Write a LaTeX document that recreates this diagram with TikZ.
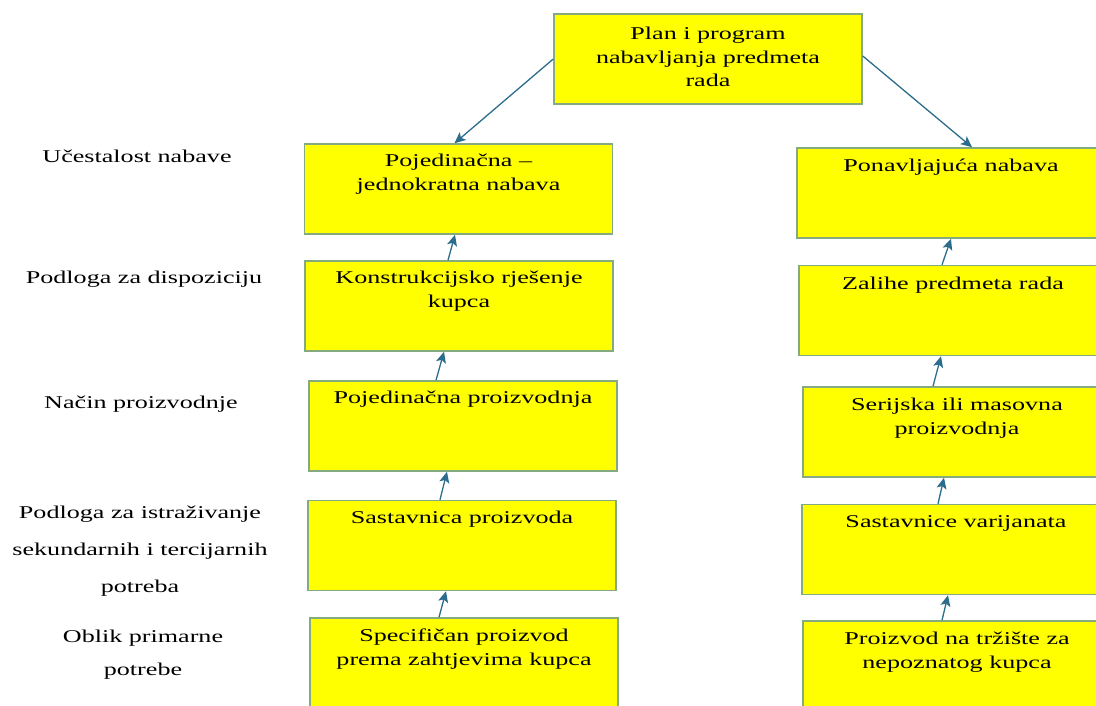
\documentclass[tikz,border=0pt]{standalone}
\usepackage{fontspec}
\setmainfont{Liberation Serif}[FakeStretch=1.45]
\usepackage{tikz}
\usetikzlibrary{arrows.meta,positioning}

\definecolor{boxline}{RGB}{134,170,128}
\definecolor{arrowblue}{RGB}{44,108,140}
\definecolor{boxfill}{RGB}{255,255,0}

\begin{document}
\begin{tikzpicture}[x=1pt,y=-1pt,->,>={Stealth[length=11pt,width=10pt,inset=2.5pt]},
                    semithick]

  \tikzstyle{box}=[rectangle,draw=boxline,fill=boxfill,line width=1.5pt,
                   minimum width=308pt,minimum height=90pt,inner sep=0pt]
  \tikzstyle{boxtext}=[anchor=north,align=center,inner sep=0pt,
                       font=\fontsize{18}{23.5}\selectfont]
  \tikzstyle{side}=[anchor=base,align=center,inner sep=0pt]
  \tikzstyle{every edge}=[draw=arrowblue,line width=1.3pt]

  \useasboundingbox (0,0) rectangle (1096,706);
  \clip (0,0) rectangle (1096,706);

  % top
  \node[box] (top) at (708,59) {};
  \node[boxtext] (toptxt) at ([yshift=-13.6pt]top.north)
    {Plan i program\\nabavljanja predmeta\\rada};

  % left column
  \node[box] (L1) at (458.5,189) {};
  \node[box] (L2) at (459,306)   {};
  \node[box] (L3) at (463,426)   {};
  \node[box] (L4) at (462,545.5) {};
  \node[box] (L5) at (464,663)   {};

  \node[boxtext] (L1txt) at ([yshift=-10.6pt]L1.north) {Pojedinačna –\\jednokratna nabava};
  \node[boxtext] (L2txt) at ([yshift=-10.6pt]L2.north) {Konstrukcijsko rješenje\\kupca};
  \node[boxtext] (L3txt) at ([yshift=-10.6pt]L3.north) {Pojedinačna proizvodnja};
  \node[boxtext] (L4txt) at ([yshift=-10.6pt]L4.north) {Sastavnica proizvoda};
  \node[boxtext] (L5txt) at ([yshift=-11.6pt]L5.north) {Specifičan proizvod\\prema zahtjevima kupca};

  % right column
  \node[box] (R1) at (951,193)   {};
  \node[box] (R2) at (953,310.5) {};
  \node[box] (R3) at (957,432)   {};
  \node[box] (R4) at (956,549.5) {};
  \node[box] (R5) at (957,666)   {};

  \node[boxtext] (R1txt) at ([yshift=-11.6pt]R1.north) {Ponavljajuća nabava};
  \node[boxtext] (R2txt) at ([yshift=-11.6pt]R2.north) {Zalihe predmeta rada};
  \node[boxtext] (R3txt) at ([yshift=-11.6pt]R3.north) {Serijska ili masovna\\proizvodnja};
  \node[boxtext] (R4txt) at ([yshift=-11.6pt]R4.north) {Sastavnice varijanata};
  \node[boxtext] (R5txt) at ([yshift=-11.6pt]R5.north) {Proizvod na tržište za\\nepoznatog kupca};

  % row labels
  \node[side,font=\fontsize{18}{37}\selectfont] (lab1) at (137,163) {Učestalost nabave};
  \node[side,font=\fontsize{18}{37}\selectfont] (lab2) at (144,283) {Podloga za dispoziciju};
  \node[side,font=\fontsize{18}{37}\selectfont] (lab3) at (141,408) {Način proizvodnje};
  \node[side,anchor=north,font=\fontsize{18}{37}\selectfont] (lab4) at (140,505.6)
    {Podloga za istraživanje\\sekundarnih i tercijarnih\\potreba};
  \node[side,anchor=north,font=\fontsize{18}{33}\selectfont] (lab5) at (143,629.6)
    {Oblik primarne\\potrebe};

  \path
  (top.west)              edge ([xshift=-4pt]L1.north)
  ([yshift=3pt]top.east)  edge ([xshift=21pt]R1.north)

  ([xshift=-11pt]L2.north) edge ([xshift=-3.5pt]L1.south)
  ([xshift=-27pt]L3.north) edge ([xshift=-15pt]L2.south)
  ([xshift=-22pt]L4.north) edge ([xshift=-16pt]L3.south)
  ([xshift=-25pt]L5.north) edge ([xshift=-16pt]L4.south)

  ([xshift=-11pt]R2.north) edge (R1.south)
  ([xshift=-24pt]R3.north) edge ([xshift=-12pt]R2.south)
  ([xshift=-18pt]R4.north) edge ([xshift=-13pt]R3.south)
  ([xshift=-15pt]R5.north) edge ([xshift=-8pt]R4.south)
  ;
\end{tikzpicture}
\end{document}
